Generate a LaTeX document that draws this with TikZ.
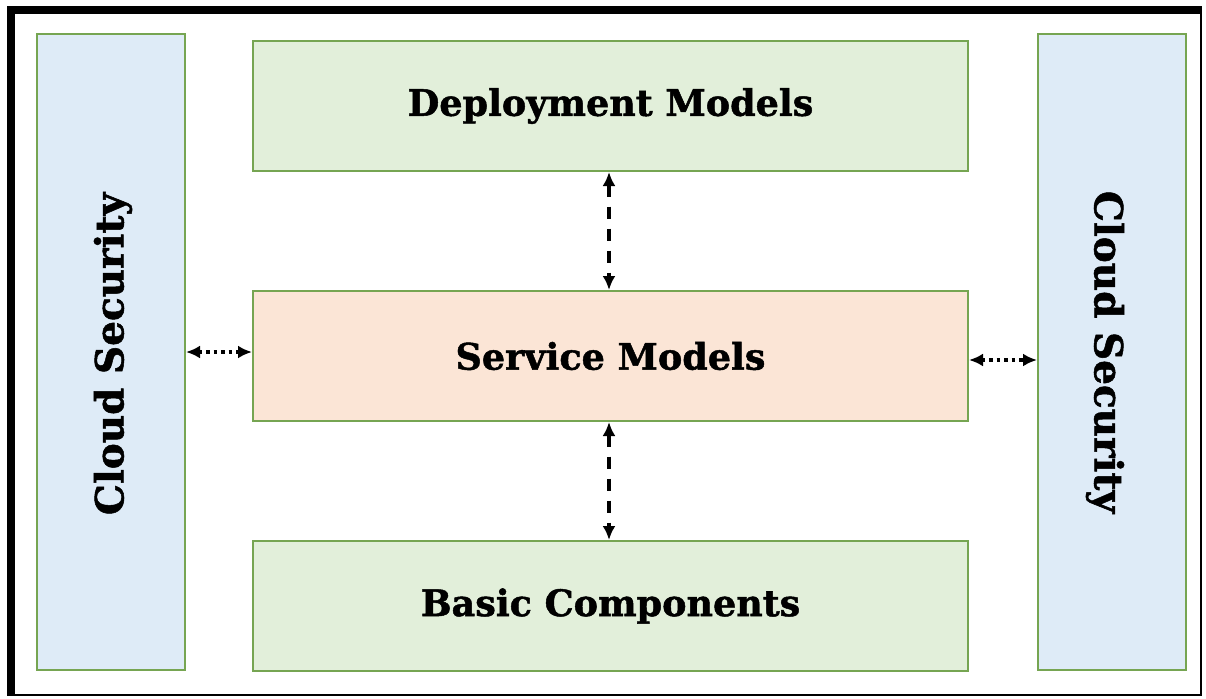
\documentclass[tikz,border=0pt]{standalone}
\usepackage{fontspec}
\setmainfont{DejaVu Serif}[BoldFeatures={FakeBold=1.3}]
\usetikzlibrary{arrows.meta}
\definecolor{gfill}{HTML}{E2EFDA}
\definecolor{gline}{HTML}{76A552}
\definecolor{bfill}{HTML}{DEEBF7}
\definecolor{pfill}{HTML}{FBE5D6}
\tikzset{
  x=1pt, y=-1pt,
  layer/.style={draw=gline, line width=2pt, fill=gfill, minimum width=715pt, minimum height=130pt, inner sep=0pt,
    font=\fontsize{36.5}{42}\selectfont\bfseries},
  side/.style={draw=gline, line width=2pt, fill=bfill, minimum width=148pt, minimum height=636pt, inner sep=0pt},
  sidetext/.style={font=\fontsize{39}{45}\selectfont\bfseries},
  vlink/.style={line width=3.2pt, dash pattern=on 12pt off 10pt, {Latex[length=14pt,width=13pt]}-{Latex[length=14pt,width=13pt]}},
  hlink/.style={line width=3.2pt, dash pattern=on 3.5pt off 4pt, {Latex[length=14pt,width=13pt]}-{Latex[length=14pt,width=13pt]}}
}
\begin{document}
\begin{tikzpicture}
\useasboundingbox (0,0) rectangle (1206,698);
% frame
\fill[black] (7,6) rectangle (1202,696);
\fill[white] (15,14) rectangle (1200,694);
% layers
\node[layer] (deploy) at (610.5,106) {Deployment Models};
\node[layer, fill=pfill] (service) at (610.5,356) {Service Models};
\node[layer] (basic) at (610.5,606) {Basic Components};
% side bars
\node[side] (secl) at (111,352) {};
\node[side] (secr) at (1112,352) {};
\node[rotate=90, sidetext] at (113,354) {Cloud Security};
\node[rotate=-90, sidetext] at (1105,352) {Cloud Security};
% connectors
\coordinate (dtop) at (609,173);
\draw[vlink] (deploy.south -| dtop) -- (service.north -| dtop);
\draw[vlink] (service.south -| dtop) -- (basic.north -| dtop);
\coordinate (lrow) at (0,352);
\coordinate (rrow) at (0,360);
\draw[hlink] (secl.east |- lrow) -- (service.west |- lrow);
\draw[hlink] (service.east |- rrow) -- (secr.west |- rrow);
\end{tikzpicture}
\end{document}
